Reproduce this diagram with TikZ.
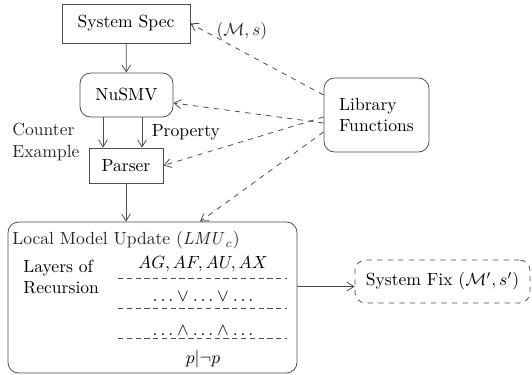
\documentclass[tikz,border=0pt]{standalone}
\usepackage{amsmath}
\usepackage{amssymb}
\usepackage{tikz}
\usetikzlibrary{arrows.meta, shapes}

\begin{document}
\begin{tikzpicture}[x=0.02cm, y=-0.02cm, line width=0.45pt, >={Straight Barb[length=4pt,width=5pt]},
		box/.style={draw=black!70, inner sep=2pt},
		rbox/.style={box, rounded corners=6pt},
		lib arrow/.style={->, dashed, draw=black!70},
		layer line/.style={draw=black!70, dash pattern=on 3pt off 2pt}]
		\useasboundingbox (0,0) rectangle (532,375);
		\node[box, minimum width=2.56cm, minimum height=0.78cm] (spec) at (126,23.5) {System Spec};
		\node[rbox, minimum width=1.86cm, minimum height=0.88cm] (nusmv) at (126.5,95) {NuSMV};
		\node[box, minimum width=1.48cm, minimum height=0.7cm] (parser) at (126,165.5) {Parser};
		\node[rbox, minimum width=2.1cm, minimum height=1.48cm, align=left] (lib) at (376.5,115) {Library\\Functions};
		\node[rbox, minimum width=5.78cm, minimum height=3.02cm] (lmu) at (152.5,297.5) {};
		\node[rbox, dashed, minimum width=3.5cm, minimum height=0.86cm] (fix) at (442.5,281.5) {System Fix \((\mathcal{M}',s')\)};
		\node[align=left, anchor=west, inner sep=0pt, text=black!85] (cex) at (12,142) {Counter\\Example};

		\node[anchor=west, inner sep=0pt, text=black!85] (title) at (12,240) {Local Model Update \((\mathit{LMU}_c)\)};
		\node[anchor=west, align=left, inner sep=0pt] (layers) at (23,277) {Layers of\\Recursion};
		\node (l-1) at (203,264) {\(AG, AF, AU, AX\)};
		\node (l-2) at (203,297) {\(\ldots\vee\ldots\vee\ldots\)};
		\node (l-3) at (203,331) {\(\ldots\wedge\ldots\wedge\ldots\)};
		\node (l-4) at (203,359) {\(p|\neg p\)};
		\draw[layer line] (118,278) -- (287,278);
		\draw[layer line] (118,308) -- (287,308);
		\draw[layer line] (118,338) -- (287,338);

		\draw[->, black!70] (spec) -- (nusmv);
		\draw[->, black!70] ([xshift=-0.47cm]nusmv.south) -- ([xshift=-0.47cm]nusmv.south |- parser.north);
		\draw[->, black!70] ([xshift=0.31cm]nusmv.south) -- ([xshift=0.31cm]nusmv.south |- parser.north)
			node[pos=0.5, right=2pt, text=black] {Property};
		\draw[->, black!70] (parser) -- (parser.south |- lmu.north);

		\draw[lib arrow] ([yshift=0.4cm]lib.west) -- (spec.east)
			node[pos=0.82, anchor=south west, yshift=-3pt, inner sep=1pt, text=black!85] {\((\mathcal{M},s)\)};
		\draw[lib arrow] ([yshift=-0.16cm]lib.west) -- ([yshift=-0.16cm]nusmv.east);
		\draw[lib arrow] ([yshift=-0.04cm]lib.west) -- (parser.east);
		\draw[lib arrow] ([yshift=-0.34cm]lib.west) -- ([xshift=0.95cm]lmu.north);

		\coordinate (fixin) at ([yshift=-0.1cm]fix.west);
		\draw[->, black!70] (fixin -| lmu.east) -- (fixin);
	\end{tikzpicture}
\end{document}
